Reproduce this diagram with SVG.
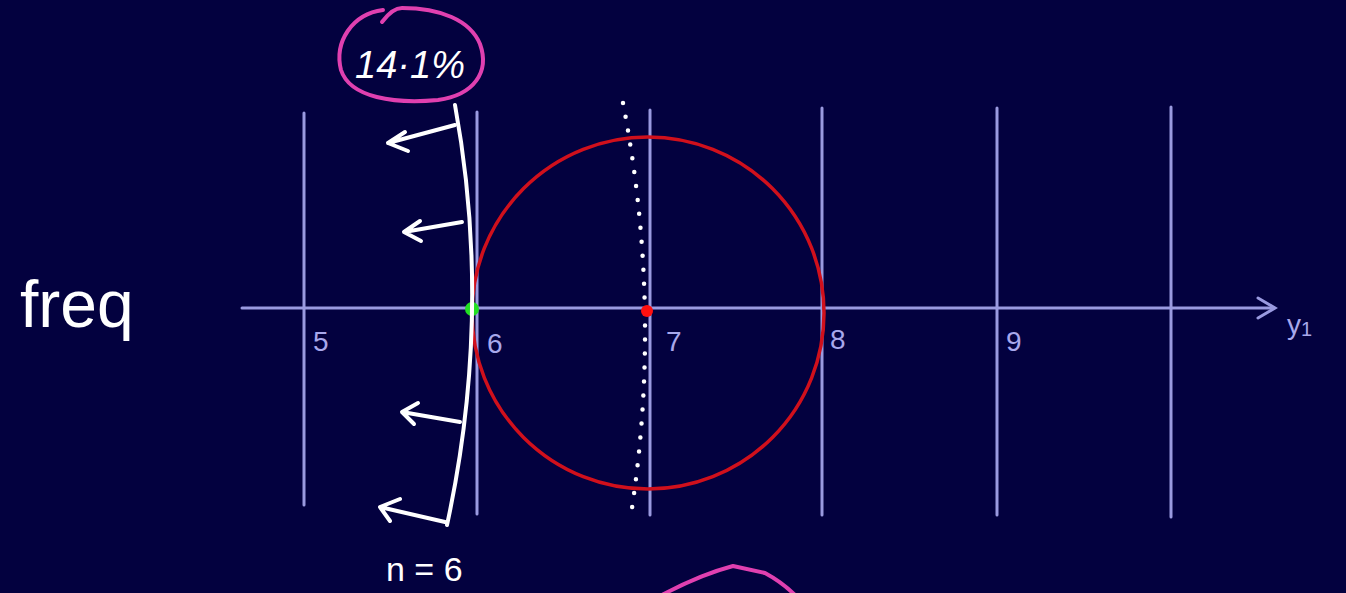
<svg xmlns="http://www.w3.org/2000/svg" width="1346" height="593" viewBox="0 0 1346 593">
<style>
.grid{stroke:#9a9ae0;stroke-width:3;fill:none;stroke-linecap:round}
.num{fill:#a8a8ec;font-family:"Liberation Sans",sans-serif;font-size:28px}
.chalk{stroke:#ffffff;stroke-width:4;fill:none;stroke-linecap:round;stroke-linejoin:round}
.hand{fill:#ffffff;font-family:"Liberation Sans",sans-serif}
.pink{stroke:#e040b0;stroke-width:4;fill:none;stroke-linecap:round;stroke-linejoin:round}
</style>
<rect width="1346" height="593" fill="#03013f"/>
<g id="grid-lines">
<line class="grid" x1="304" y1="113" x2="304" y2="505"/>
<line class="grid" x1="477" y1="112" x2="477" y2="514"/>
<line class="grid" x1="650" y1="110" x2="650" y2="515"/>
<line class="grid" x1="822" y1="108" x2="822" y2="515"/>
<line class="grid" x1="997" y1="108" x2="997" y2="515"/>
<line class="grid" x1="1171" y1="107" x2="1171" y2="517"/>
</g>
<g id="axis">
<line class="grid" x1="242" y1="308" x2="1274" y2="308"/>
<polyline class="grid" points="1258,298 1275,308 1258,318"/>
<text class="num" x="1287" y="334" font-size="34" fill="#d8d8f8">y<tspan font-size="20" dy="2">1</tspan></text>
</g>
<g id="tick-labels">
<text class="num" x="313" y="351">5</text>
<text class="num" x="487" y="353">6</text>
<text class="num" x="666" y="351">7</text>
<text class="num" x="830" y="349">8</text>
<text class="num" x="1006" y="351">9</text>
</g>
<g id="circle">
<circle cx="648" cy="313" r="176" fill="none" stroke="#d0101c" stroke-width="3.5"/>
</g>
<g id="dotted-line">
<path d="M623,103 Q662,306 632,508" fill="none" stroke="#ffffff" stroke-width="4.5" stroke-linecap="round" stroke-dasharray="0 14"/>
</g>
<g id="points">
<circle cx="647" cy="311" r="6" fill="#ff1010"/>
<circle cx="472" cy="309" r="7" fill="#22e022"/>
</g>
<g id="boundary">
<path class="chalk" d="M455,105 Q493,313 447,525"/>
</g>
<g id="arrows">
<path class="chalk" d="M455,125 L388,143 M405,132 L388,143 L408,151"/>
<path class="chalk" d="M462,222 L404,232 M420,221 L404,232 L421,241"/>
<path class="chalk" d="M460,422 L402,412 M418,403 L402,412 L414,424"/>
<path class="chalk" d="M445,522 L380,507 M400,499 L380,507 L390,521"/>
</g>
<g id="label-percent">
<path class="pink" d="M383,10 C352,14 334,42 341,70 C350,98 395,104 438,100 C474,95 490,72 480,44 C470,20 440,8 402,8 C394,8 388,14 382,22"/>
<text class="hand" x="410" y="78" font-size="38" font-style="italic" text-anchor="middle">14·1%</text>
</g>
<g id="label-freq">
<text class="hand" x="20" y="327" font-size="66">freq</text>
</g>
<g id="label-n">
<text class="hand" x="386" y="581" font-size="34">n = 6</text>
</g>
<g id="pink-arc">
<path class="pink" d="M660,596 C690,580 710,572 733,566 L765,573 C778,580 788,588 796,596"/>
</g>
</svg>
